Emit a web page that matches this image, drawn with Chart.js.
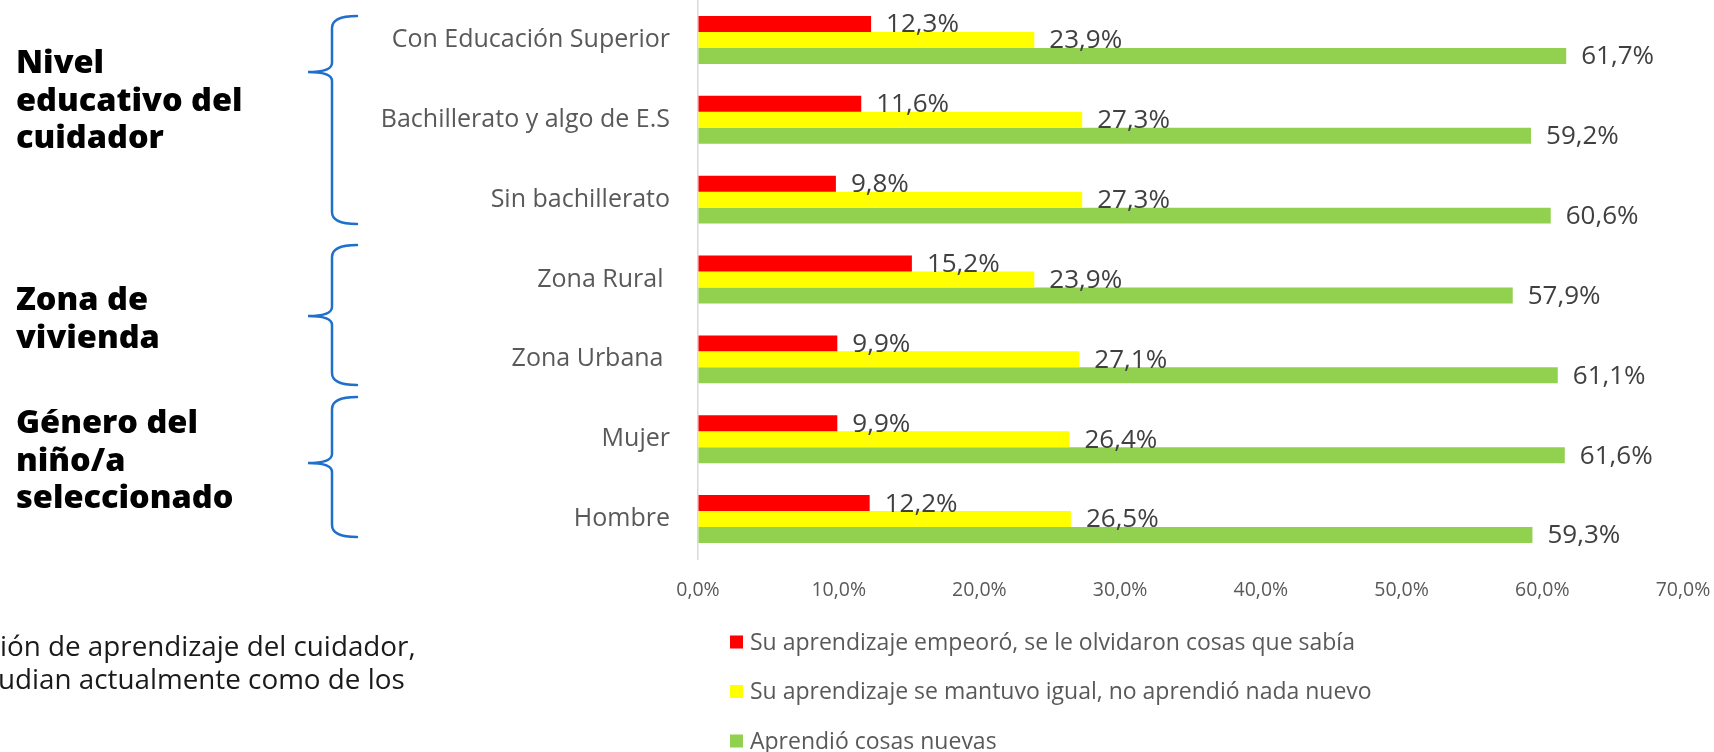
<!DOCTYPE html>
<html>
<head>
<meta charset="utf-8">
<script src="https://cdn.jsdelivr.net/npm/chart.js@4/dist/chart.umd.min.js"></script>
<style>
html,body{margin:0;padding:0;background:#fff;overflow:hidden;}
#wrap{position:relative;width:1714px;height:752px;}
canvas{display:block;}
</style>
</head>
<body>
<div id="wrap"><canvas id="c" width="1714" height="752"></canvas></div>
<script>
// ---- data ----
const categories = ['Con Educación Superior', 'Bachillerato y algo de E.S', 'Sin bachillerato', 'Zona Rural ', 'Zona Urbana ', 'Mujer', 'Hombre'];
const empeoro = [12.3, 11.6, 9.8, 15.2, 9.9, 9.9, 12.2];
const igual = [23.9, 27.3, 27.3, 23.9, 27.1, 26.4, 26.5];
const nuevas = [61.7, 59.2, 60.6, 57.9, 61.1, 61.6, 59.3];
const seriesNames = [
  'Su aprendizaje empeoró, se le olvidaron cosas que sabía',
  'Su aprendizaje se mantuvo igual, no aprendió nada nuevo',
  'Aprendió cosas nuevas'
];
const seriesColors = ['#FF0000', '#FFFF00', '#92D050'];
const groupLabels = [
  ['Nivel', 'educativo del', 'cuidador'],
  ['Zona de', 'vivienda'],
  ['Género del', 'niño/a', 'seleccionado']
];
const captionLines = ['ión de aprendizaje del cuidador,', 'udian actualmente como de los'];
const xMin = 0, xMax = 70, xStep = 10;

const fmt = v => v.toFixed(1).replace('.', ',') + '%';

// ---- decorations (group labels, braces, caption, legend, data labels) ----
const decor = {
  id: 'decor',
  afterDatasetsDraw(chart) {
    const ctx = chart.ctx;
    ctx.save();
    ctx.font = '26px "Open Sans"';
    ctx.fillStyle = '#404040';
    ctx.textBaseline = 'middle';
    ctx.textAlign = 'left';
    chart.data.datasets.forEach((ds, di) => {
      const meta = chart.getDatasetMeta(di);
      meta.data.forEach((bar, i) => {
        ctx.fillText(fmt(ds.data[i]), bar.x + 15, bar.y + 1);
      });
    });
    ctx.restore();
  },
  afterDraw(chart) {
    const ctx = chart.ctx;
    ctx.save();
    // group labels
    ctx.fillStyle = '#000';
    ctx.font = '800 32.5px "Open Sans"';
    ctx.textBaseline = 'alphabetic';
    ctx.textAlign = 'left';
    const groupBase = [73, 310, 433];
    groupLabels.forEach((lines, g) => {
      lines.forEach((t, k) => ctx.fillText(t, 16, groupBase[g] + k * 37.5));
    });
    // braces
    const braces = [[16, 72, 224], [245, 316, 385], [397, 463, 537]];
    ctx.strokeStyle = '#1F6FCC';
    ctx.lineWidth = 2.5;
    ctx.lineCap = 'round';
    const vx = 332, rx = 357, tx = 308;
    braces.forEach(([T, M, B]) => {
      ctx.beginPath();
      ctx.moveTo(rx, T);
      ctx.quadraticCurveTo(vx, T, vx, T + 12);
      ctx.lineTo(vx, M - 9);
      ctx.quadraticCurveTo(vx, M, tx, M);
      ctx.quadraticCurveTo(vx, M, vx, M + 9);
      ctx.lineTo(vx, B - 12);
      ctx.quadraticCurveTo(vx, B, rx, B);
      ctx.stroke();
    });
    // caption (cut off at left)
    ctx.fillStyle = '#1a1a1a';
    ctx.font = '27.8px "Open Sans"';
    ctx.fillText(captionLines[0], 0, 656);
    ctx.fillText(captionLines[1], -2, 689);
    // legend
    ctx.font = '23px "Open Sans"';
    ctx.textBaseline = 'middle';
    chart.data.datasets.forEach((ds, i) => {
      const y = 642 + i * 49.5;
      ctx.fillStyle = ds.backgroundColor;
      ctx.fillRect(730, y - 6.5, 13, 13);
      ctx.fillStyle = '#595959';
      ctx.fillText(ds.label, 750, y + 1);
    });
    ctx.restore();
  }
};

function noPad(s) { s.paddingTop = 0; s.paddingBottom = 0; s.paddingLeft = 0; s.paddingRight = 0; }

new Chart(document.getElementById('c'), {
  type: 'bar',
  data: {
    labels: categories,
    datasets: [
      { label: seriesNames[0], data: empeoro, backgroundColor: seriesColors[0] },
      { label: seriesNames[1], data: igual, backgroundColor: seriesColors[1] },
      { label: seriesNames[2], data: nuevas, backgroundColor: seriesColors[2] }
    ]
  },
  options: {
    indexAxis: 'y',
    responsive: false,
    animation: false,
    devicePixelRatio: 1,
    layout: { padding: { left: 0, right: 31, top: 0, bottom: 0 } },
    datasets: { bar: { categoryPercentage: 0.6, barPercentage: 1.0 } },
    plugins: { legend: { display: false }, tooltip: { enabled: false } },
    scales: {
      x: {
        min: xMin, max: xMax,
        afterFit(s) { s.height = 752 - 559; noPad(s); },
        grid: { display: true, drawOnChartArea: false, drawTicks: false },
        border: { display: false },
        ticks: {
          stepSize: xStep,
          padding: 20,
          color: '#595959',
          font: { family: 'Open Sans', size: 19.5 },
          callback: v => fmt(v)
        }
      },
      y: {
        afterFit(s) { s.width = 698; noPad(s); },
        grid: { display: true, drawOnChartArea: false, drawTicks: false },
        border: { display: true, color: '#D9D9D9', width: 1.5 },
        ticks: {
          padding: 28,
          color: '#595959',
          font: { family: 'Open Sans', size: 25 }
        }
      }
    }
  },
  plugins: [decor]
});
</script>
</body>
</html>
